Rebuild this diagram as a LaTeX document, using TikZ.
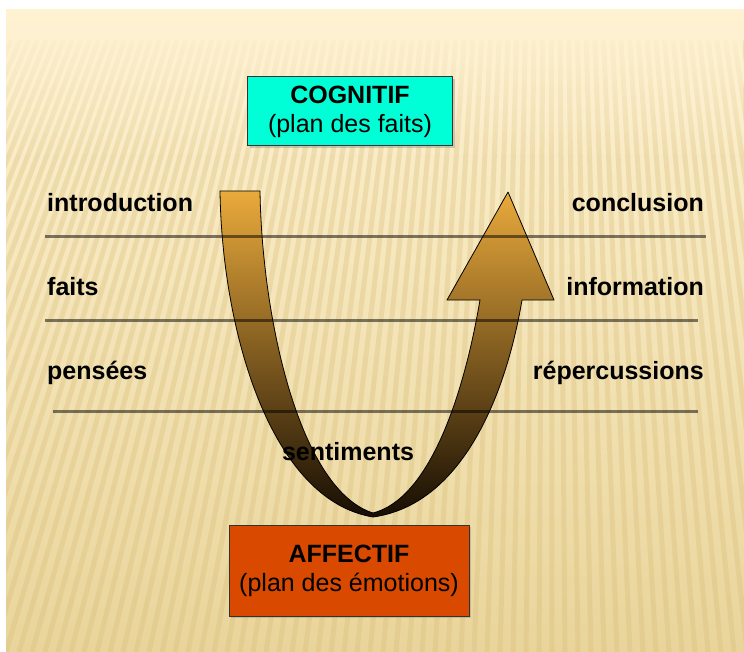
\documentclass[tikz,border=0pt]{standalone}
\usepackage{fontspec}
\setmainfont{Liberation Sans}
\usetikzlibrary{shadows,fadings}
\definecolor{cream}{RGB}{254,242,210}
\definecolor{tanb}{RGB}{233,213,155}
\definecolor{stripe}{RGB}{215,185,115}
\definecolor{cogn}{RGB}{0,255,214}
\definecolor{affe}{RGB}{217,74,0}
\definecolor{gold}{RGB}{234,170,60}
\definecolor{brownm}{RGB}{165,113,38}
\definecolor{darkb}{RGB}{22,13,3}
\tikzfading[name=fadedown, top color=transparent!0, bottom color=transparent!100]
\tikzset{
  lbl/.style={inner sep=0pt, font=\bfseries\fontsize{25}{29}\selectfont},
  box/.style={draw=black!80, line width=1pt, inner sep=0pt, align=center,
    font=\fontsize{25}{29}\selectfont,
    drop shadow={shadow xshift=2pt, shadow yshift=-2pt, opacity=0.35}},
  rule/.style={draw=black, draw opacity=0.5, line width=3pt},
  stripeline/.style={draw=stripe, line width=5pt, draw opacity=0.3},
  ribbon/.style={draw=black, line width=0.8pt, line join=round,
    top color=gold, middle color=brownm, bottom color=darkb}
}
\begin{document}
\begin{tikzpicture}[x=1pt,y=-1pt]
\useasboundingbox (0,0) rectangle (744,652);
\fill[white] (0,0) rectangle (744,652);
\shade[top color=cream, bottom color=tanb] (6,10) rectangle (744,652);
\begin{scope}
  \clip (6,10) rectangle (744,652);
  \foreach \x in {-280,-267,...,860}
    \path[stripeline] (\x,652) -- ({\x+(550-\x)*0.33},40);
  \fill[cream, path fading=fadedown] (6,10) rectangle (744,160);
\end{scope}

% ribbon arrow
\path[ribbon]
  (220,191) .. controls (222,330) and (270,500) .. (373,517)
  .. controls (460,505) and (505,400) .. (522,300)
  -- (554,300) -- (508,192) -- (447,300) -- (480,300)
  .. controls (463,400) and (428,499) .. (373,513)
  .. controls (300,490) and (262,320) .. (260,191) -- cycle;

% rules
\coordinate (r1a) at (45,237);  \coordinate (r1b) at (706,237);
\coordinate (r2a) at (45,320);  \coordinate (r2b) at (698,320);
\coordinate (r3a) at (53,411);  \coordinate (r3b) at (698,411);
\path[rule] (r1a) -- (r1b);
\path[rule] (r2a) -- (r2b);
\path[rule] (r3a) -- (r3b);

% labels
\node[lbl, anchor=base west] (intro) at (47,212) {introduction};
\node[lbl, anchor=base west] (faits) at (47,295) {faits};
\node[lbl, anchor=base west] (pens) at (47,379) {pensées};
\node[lbl, anchor=base east] (concl) at (704,212) {conclusion};
\node[lbl, anchor=base east] (info) at (704,295) {information};
\node[lbl, anchor=base east] (reper) at (704,379) {répercussions};
\node[lbl, anchor=base] (senti) at (348,460) {sentiments};

% boxes
\node[box, fill=cogn, minimum width=205pt, minimum height=69pt] (cog) at (350,111.5)
  {{\bfseries COGNITIF}\\(plan des faits)};
\node[box, fill=affe, minimum width=240pt, minimum height=91pt] (aff) at (349,570.5)
  {{\bfseries AFFECTIF}\\(plan des émotions)};
\end{tikzpicture}
\end{document}
